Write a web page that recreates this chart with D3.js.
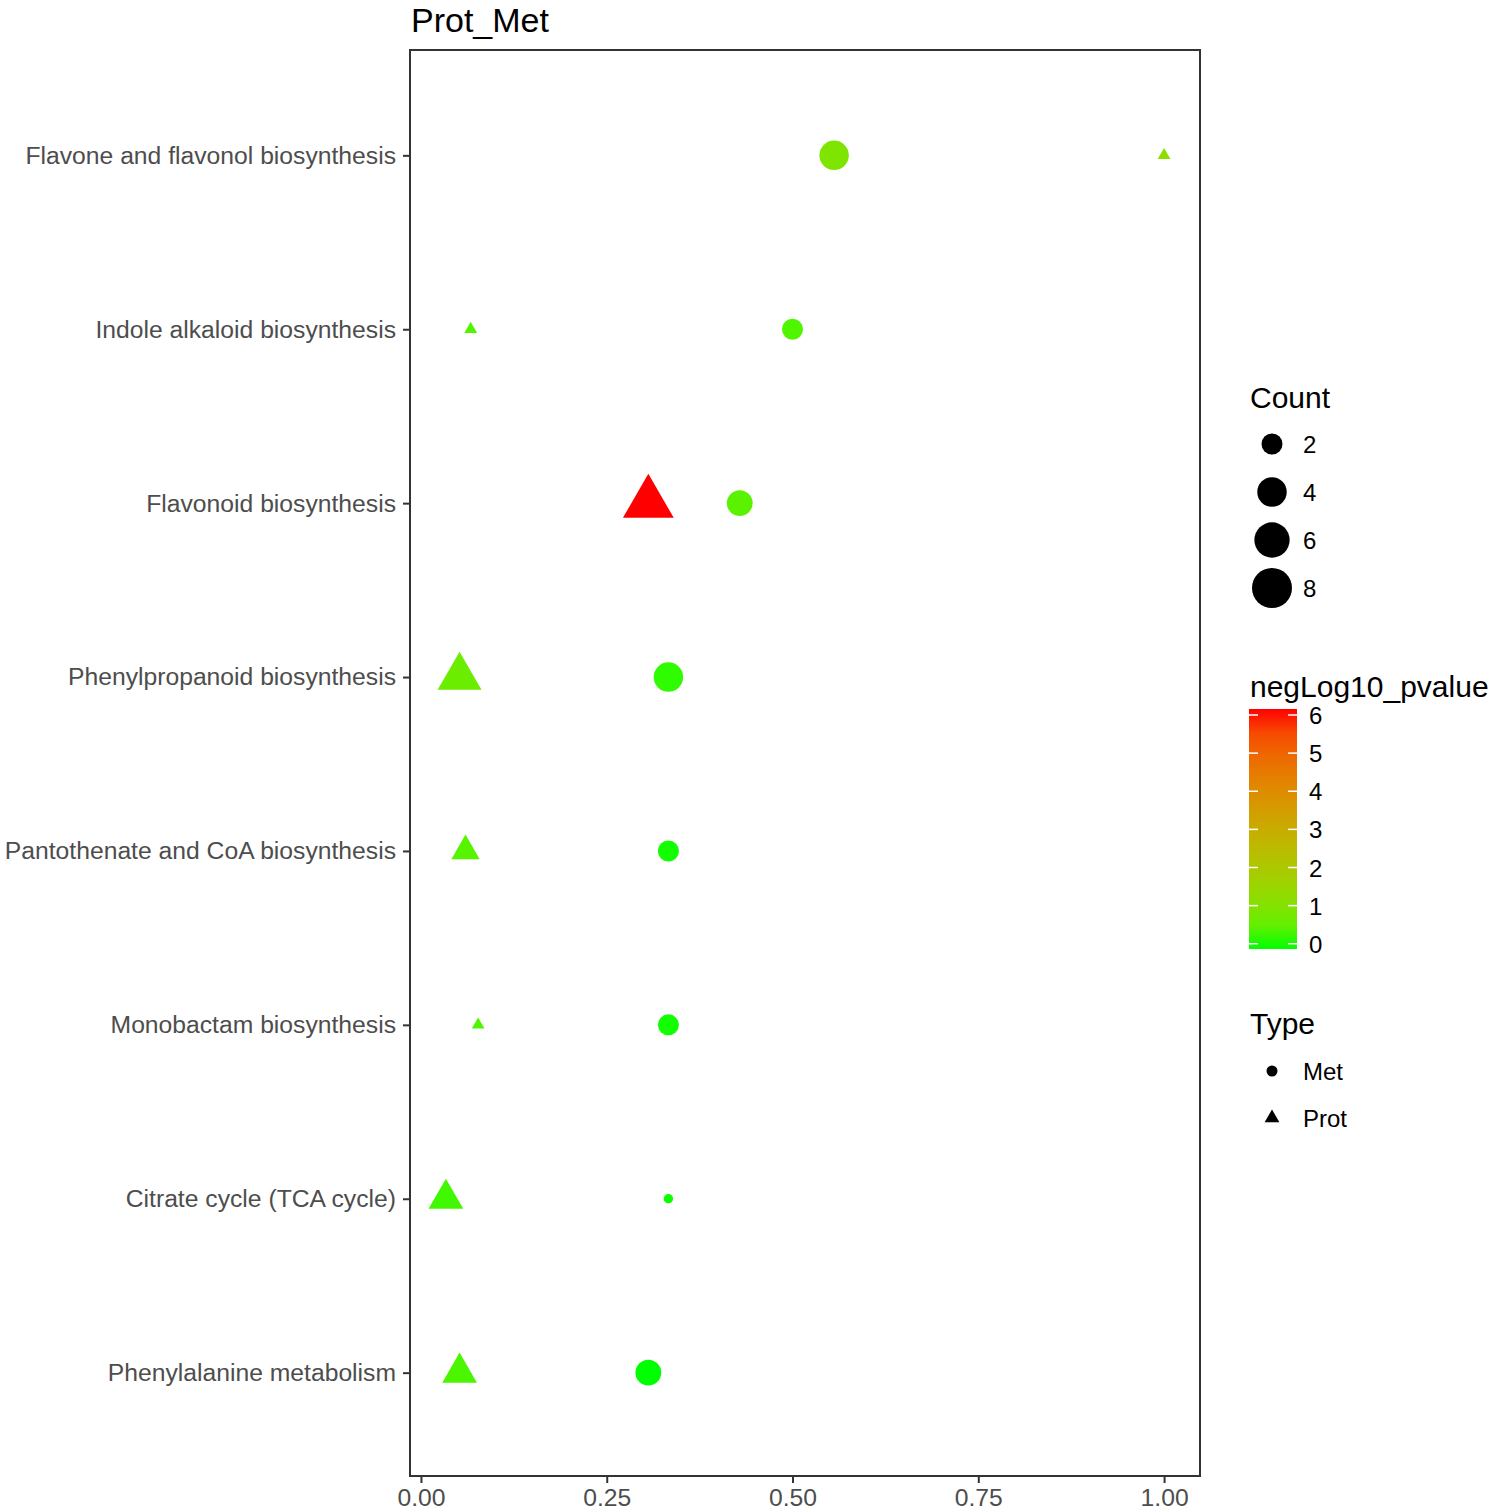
<!DOCTYPE html>
<html>
<head>
<meta charset="utf-8">
<script src="https://cdn.jsdelivr.net/npm/d3@7"></script>
<style>
  body { margin: 0; background: #fff; }
  text { font-family: "Liberation Sans", Arial, sans-serif; }
</style>
</head>
<body>
<svg id="chart" width="1491" height="1512"></svg>
<script>
// pathways, top to bottom
const pathways = [
  "Flavone and flavonol biosynthesis",
  "Indole alkaloid biosynthesis",
  "Flavonoid biosynthesis",
  "Phenylpropanoid biosynthesis",
  "Pantothenate and CoA biosynthesis",
  "Monobactam biosynthesis",
  "Citrate cycle (TCA cycle)",
  "Phenylalanine metabolism"
];

// Met series
const metRatio = [0.556, 0.5, 0.429, 0.333, 0.333, 0.333, 0.333, 0.306];
const metCount = [4, 2, 3, 4, 2, 2, 1, 3];
const metLogP  = [1.0, 0.38, 0.5, 0.15, 0.05, 0.05, 0.04, 0.02];

// Prot series
const protRatio = [1.0, 0.067, 0.306, 0.052, 0.06, 0.077, 0.0336, 0.052];
const protCount = [1, 1, 7, 5, 2, 1, 3, 3];
const protLogP  = [1.3, 0.4, 6.0, 0.7, 0.45, 0.4, 0.25, 0.35];

const countBreaks = [2, 4, 6, 8];
const pBreaks = [0, 1, 2, 3, 4, 5, 6];
const xTicks = [0, 0.25, 0.5, 0.75, 1];
const types = ["Met", "Prot"];

// rows for drawing
let points = [];
pathways.forEach(function(p, i) {
  points.push({pathway: p, type: "Met", ratio: metRatio[i], count: metCount[i], logp: metLogP[i]});
  points.push({pathway: p, type: "Prot", ratio: protRatio[i], count: protCount[i], logp: protLogP[i]});
});

var svg = d3.select("#chart");

// panel box
const panelL = 410, panelR = 1200, panelT = 50, panelB = 1476;

// x: data range with 5% expansion like ggplot
var xExt = d3.extent(points, d => d.ratio);
var xPad = (xExt[1] - xExt[0]) * 0.05;
var x = d3.scaleLinear()
  .domain([xExt[0] - xPad, xExt[1] + xPad])
  .range([panelL, panelR]);

var y = d3.scalePoint()
  .domain(pathways)
  .range([panelT, panelB])
  .padding(0.6);

// size: area scale, count 1..8 -> diameter in px
var size = d3.scaleLinear().domain([0, 1]).range([9.5, 40]);
var countMin = 1, countMax = 8;
function diam(c) {
  return size(Math.sqrt((c - countMin) / (countMax - countMin)));
}

var pExt = d3.extent(points, d => d.logp);
var color = d3.scaleLinear()
  .domain(pExt)
  .range(["#00ff00", "#ff0000"])
  .interpolate(d3.interpolateLab);

function shapeType(t) { return t == "Met" ? d3.symbolCircle : d3.symbolTriangle; }

// points
svg.append("g")
  .selectAll("path")
  .data(points)
  .enter().append("path")
    .attr("transform", d => "translate(" + x(d.ratio) + "," + (y(d.pathway) + 1) + ")")
    .attr("d", d => d3.symbol().type(shapeType(d.type)).size(Math.PI * diam(d.count) * diam(d.count) / 4)())
    .style("fill", d => color(d.logp));

// panel border
svg.append("rect")
  .attr("x", panelL).attr("y", panelT)
  .attr("width", panelR - panelL).attr("height", panelB - panelT)
  .style("fill", "none")
  .style("stroke", "#333333")
  .style("stroke-width", 2);

// x axis
var xAxis = svg.append("g")
  .attr("transform", "translate(0," + panelB + ")")
  .call(d3.axisBottom(x).tickValues(xTicks).tickFormat(d3.format(".2f")).tickSize(7).tickPadding(5));
xAxis.select(".domain").remove();
xAxis.selectAll("line").style("stroke", "#333333").style("stroke-width", 2);
xAxis.selectAll("text").style("font-size", "24.7px").style("fill", "#4d4d4d")
  .style("font-family", "Liberation Sans, Arial, sans-serif");

// y axis
var yAxis = svg.append("g")
  .attr("transform", "translate(" + panelL + ",1)")
  .call(d3.axisLeft(y).tickSize(7).tickPadding(7));
yAxis.select(".domain").remove();
yAxis.selectAll("line").style("stroke", "#333333").style("stroke-width", 2);
yAxis.selectAll("text").style("font-size", "24.7px").style("fill", "#4d4d4d")
  .style("font-family", "Liberation Sans, Arial, sans-serif");

// title
svg.append("text")
  .attr("x", 411).attr("y", 32)
  .style("font-size", "34px")
  .text("Prot_Met");

// legends
const lx = 1250;

// Count
svg.append("text").attr("x", lx).attr("y", 408).style("font-size", "30px").text("Count");
var cg = svg.append("g");
countBreaks.forEach(function(c, i) {
  var cy = 444 + i * 48;
  cg.append("circle").attr("cx", 1272).attr("cy", cy).attr("r", diam(c) / 2).style("fill", "#000");
  cg.append("text").attr("x", 1303).attr("y", cy + 9).style("font-size", "24px").text(c);
});

// colour bar
svg.append("text").attr("x", lx).attr("y", 697).style("font-size", "30px").text("negLog10_pvalue");
const barTop = 709, barBot = 949, barL = 1249, barW = 48, nbin = 20;
var grad = svg.append("defs").append("linearGradient")
  .attr("id", "pgrad").attr("x1", 0).attr("y1", 1).attr("x2", 0).attr("y2", 0);
d3.range(0, 11).forEach(function(k) {
  var v = pExt[0] + (pExt[1] - pExt[0]) * k / 10;
  grad.append("stop").attr("offset", k / 10).attr("stop-color", color(v));
});
svg.append("rect").attr("x", barL).attr("y", barTop).attr("width", barW).attr("height", barBot - barTop)
  .style("fill", "url(#pgrad)");
var barScale = d3.scaleLinear()
  .domain(pExt)
  .range([barBot - (barBot - barTop) * 0.5 / nbin, barTop + (barBot - barTop) * 0.5 / nbin]);
pBreaks.forEach(function(b) {
  var by = barScale(b);
  svg.append("line").attr("x1", barL).attr("x2", barL + 9).attr("y1", by).attr("y2", by)
    .style("stroke", "#fff").style("stroke-width", 1.5);
  svg.append("line").attr("x1", barL + barW - 9).attr("x2", barL + barW).attr("y1", by).attr("y2", by)
    .style("stroke", "#fff").style("stroke-width", 1.5);
  svg.append("text").attr("x", 1309).attr("y", by + 9).style("font-size", "24px").text(b);
});

// Type
svg.append("text").attr("x", lx).attr("y", 1034).style("font-size", "30px").text("Type");
types.forEach(function(t, i) {
  var ty = 1071 + i * 47;
  svg.append("path")
    .attr("transform", "translate(1272," + ty + ")")
    .attr("d", d3.symbol().type(shapeType(t)).size(Math.PI * 11 * 11 / 4)())
    .style("fill", "#000");
  svg.append("text").attr("x", 1303).attr("y", ty + 9).style("font-size", "24px").text(t);
});
</script>
</body>
</html>
